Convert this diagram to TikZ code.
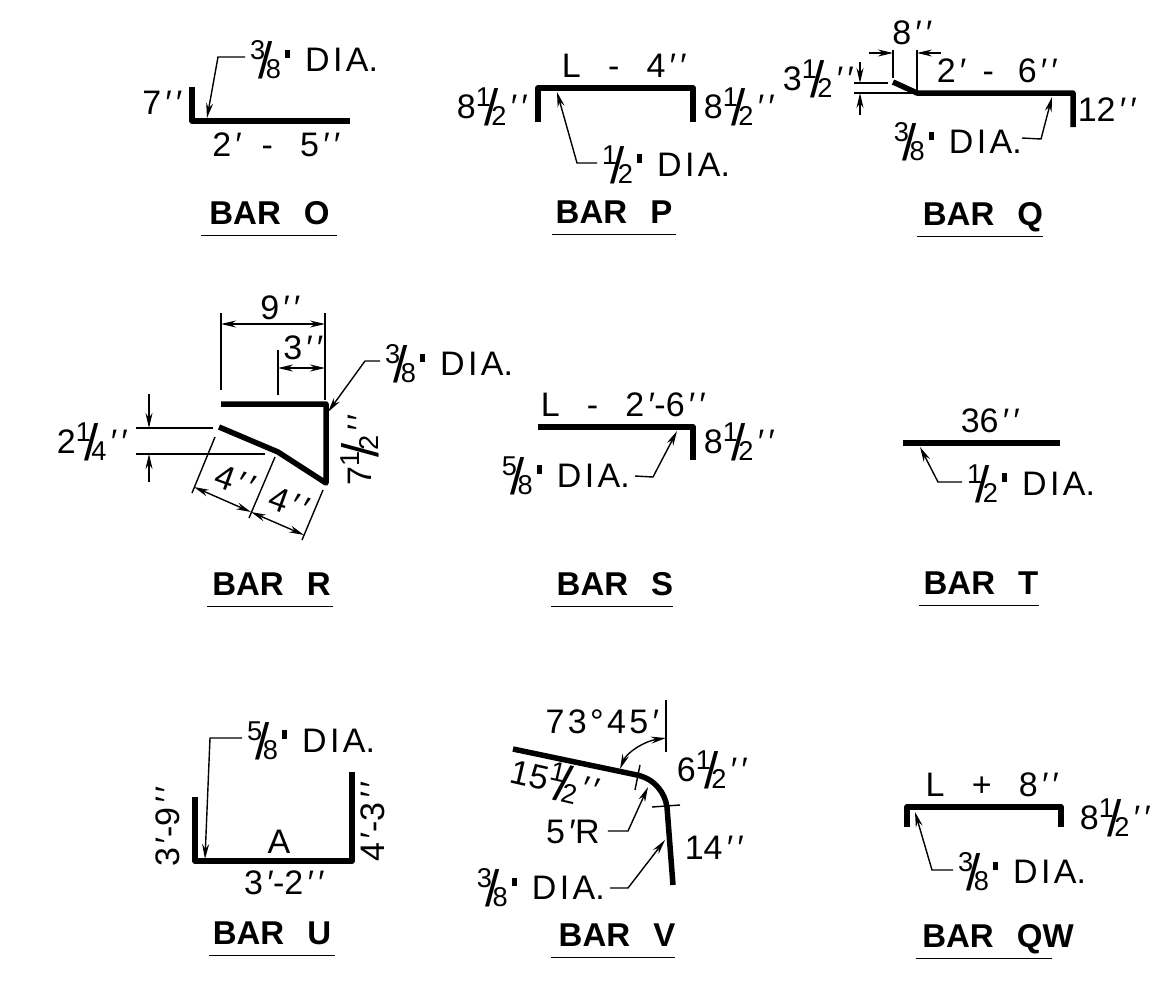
\documentclass[tikz,border=0pt]{standalone}
\usepackage{fontspec}
\setmainfont{Liberation Sans}
\usetikzlibrary{arrows.meta}

\newcommand{\frc}[2]{\raisebox{.36em}{\scalebox{.8}{#1}}\kern-.2em\raisebox{-.2em}{\scalebox{1.5}{/}}\kern-.2em\raisebox{-.2em}{\scalebox{.8}{#2}}}
\newcommand{\dia}{\kern.12em\rule[.42em]{.14em}{.24em}\kern.45em D\kern.1em I\kern.1em A.}
\newcommand{\inch}{\kern.08em\textit{′\kern.12em′}}
\newcommand{\foot}{\kern.08em\textit{′}}
\newcommand{\gp}{\kern.8em}

\tikzset{
  lbl/.style={inner sep=1pt, font=\fontsize{34}{34}\selectfont},
  dlbl/.style={lbl, inner xsep=5pt},
  titlebar/.style={inner sep=0pt, minimum height=46, text height=24, text depth=0, font=\fontsize{33}{33}\selectfont\bfseries},
  rebar/.style={line width=5.5, line join=round, line cap=butt},
  thin line/.style={line width=1.4},
  arrowed/.style={line width=1.4, -{Stealth[length=15, width=7]}},
  both arrowed/.style={line width=1.4, {Stealth[length=15, width=7]}-{Stealth[length=15, width=7]}}
}

\begin{document}
\begin{tikzpicture}[x=1pt, y=-1pt]
 \useasboundingbox (0,0) rectangle (1173,986);

 %%%%%%%%%% Titles %%%%%%%%%%
 \foreach \tx/\ty/\tw/\ts/\tname in {269/212/136/1/O, 614/211/124/0/P, 980/213/126/6/Q,
   270/583/125/3/R, 612/583/121/6/S, 979/582/120/4/T, 272/932/126/0/U, 613/934/123/8/V, 984/935/136/28/QW}
 {
   \node[titlebar, minimum width=\tw] (t\tname) at (\tx,\ty) {\makebox[0pt][c]{\hspace{\ts pt}BAR\hspace{.7em}\tname}};
   \draw[thin line] (t\tname.south west) -- (t\tname.south east);
 }

 %%%%%%%%%% Bar O %%%%%%%%%%
 \coordinate (o1) at (192,87);
 \coordinate (o2) at (192,121);
 \coordinate (o3) at (350,121);
 \coordinate (otip) at (207,118);
 \coordinate (obend) at (218,57);
 \draw[rebar] (o1) -- (o2) -- (o3);
 \node[lbl] (o7) at (162,103) {7\inch};
 \node[lbl] (olen) at (276,145) {2\foot\kern.6em-\gp 5\inch};
 \node[dlbl, anchor=west] (odia) at (245,60) {\frc{3}{8}\dia};
 \draw[arrowed] (odia.west) ++(0,-3) -- (obend) -- (otip);

 %%%%%%%%%% Bar P %%%%%%%%%%
 \coordinate (p1) at (538,122);
 \coordinate (p2) at (538,88);
 \coordinate (p3) at (693,88);
 \coordinate (p4) at (693,122);
 \coordinate (ptip) at (557,92);
 \coordinate (pbend) at (577,163);
 \draw[rebar] (p1) -- (p2) -- (p3) -- (p4);
 \node[lbl] (pleft) at (492,107) {8\frc{1}{2}\inch};
 \node[lbl] (pright) at (739,107) {8\frc{1}{2}\inch};
 \node[lbl] (plen) at (624,66) {L\gp-\gp 4\inch};
 \node[dlbl, anchor=west] (pdia) at (597,165) {\frc{1}{2}\dia};
 \draw[arrowed] (pdia.west) ++(0,-2) -- (pbend) -- (ptip);

 %%%%%%%%%% Bar Q %%%%%%%%%%
 \coordinate (q1) at (893,82);
 \coordinate (q2) at (917,93);
 \coordinate (q3) at (1073,93);
 \coordinate (q4) at (1073,127);
 \coordinate (qa) at (893,50);
 \coordinate (qb) at (917,50);
 \coordinate (qc) at (854,83);
 \coordinate (qd) at (854,93);
 \coordinate (qtip) at (1052,97);
 \coordinate (qbend) at (1041,139);
 \draw[rebar] (q1) -- (q2) -- (q3) -- (q4);
 \draw[thin line] (qa) -- (893,78);
 \draw[thin line] (qb) -- (q2);
 \draw[thin line] (qc) -- (888,83);
 \draw[thin line] (qd) -- (q2);
 \draw[arrowed] (869,53) -- (893,53);
 \draw[arrowed] (941,53) -- (917,53);
 \draw[arrowed] (860,62) -- (860,83);
 \draw[arrowed] (860,115) -- (860,93);
 \node[lbl] (q8) at (912,33) {8\inch};
 \node[lbl] (q35) at (818,79) {3\frc{1}{2}\inch};
 \node[lbl] (qlen) at (997,71) {2\foot\kern.5em-\kern.7em 6\inch};
 \node[lbl] (q12) at (1107,110) {12\inch};
 \node[dlbl, anchor=east] (qdia) at (1027,142) {\frc{3}{8}\dia};
 \draw[arrowed] (qdia.east) ++(-5,-4) -- (qbend) -- (qtip);

 %%%%%%%%%% Bar R %%%%%%%%%%
 \coordinate (r1) at (221,404);
 \coordinate (r2) at (326,404);
 \coordinate (r3) at (326,483);
 \coordinate (r4) at (278,452);
 \coordinate (r5) at (219,427);
 \coordinate (rtip) at (328,412);
 \coordinate (rbend) at (365,361);
 \draw[rebar] (r1) -- (r2) -- (r3) -- (r4) -- (r5);
 \draw[thin line] (221,313) -- (221,390);
 \draw[thin line] (325,313) -- (325,400);
 \draw[thin line] (278,350) -- (278,395);
 \draw[both arrowed] (221,324) -- (325,324);
 \draw[both arrowed] (278,368) -- (325,368);
 \draw[thin line] (136,428) -- (213,428);
 \draw[thin line] (136,454) -- (265,454);
 \draw[arrowed] (149,394) -- (149,428);
 \draw[arrowed] (149,482) -- (149,454);
 \draw[thin line] (215,437) -- (192,493);
 \draw[thin line] (275,457) -- (249,518);
 \draw[thin line] (323,490) -- (302,540);
 \draw[both arrowed] (194,487) -- (251,512);
 \draw[both arrowed] (251,512) -- (304,535);
 \node[lbl] (r9) at (280,308) {9\inch};
 \node[lbl] (r3in) at (303,348) {3\inch};
 \node[lbl] (r225) at (92,442) {2\frc{1}{4}\inch};
 \node[lbl, rotate=90] (r75) at (360,450) {7\frc{1}{2}\inch};
 \node[lbl, rotate=-20] (r4a) at (235,481) {4\inch};
 \node[lbl, rotate=-20] (r4b) at (289,503) {4\inch};
 \node[dlbl, anchor=west] (rdia) at (380,364) {\frc{3}{8}\dia};
 \draw[arrowed] (rdia.west) ++(0,-3) -- (rbend) -- (rtip);

 %%%%%%%%%% Bar S %%%%%%%%%%
 \coordinate (s1) at (538,427);
 \coordinate (s2) at (693,427);
 \coordinate (s3) at (693,460);
 \coordinate (stip) at (677,431);
 \coordinate (sbend) at (653,477);
 \draw[rebar] (s1) -- (s2) -- (s3);
 \node[lbl] (slen) at (623,405) {L\gp-\gp 2\foot-6\inch};
 \node[lbl] (sright) at (739,442) {8\frc{1}{2}\inch};
 \node[dlbl, anchor=east] (sdia) at (635,476) {\frc{5}{8}\dia};
 \draw[arrowed] (sdia.east) -- (sbend) -- (stip);

 %%%%%%%%%% Bar T %%%%%%%%%%
 \coordinate (t1) at (903,443);
 \coordinate (t2) at (1060,443);
 \coordinate (ttip) at (920,447);
 \coordinate (tbend) at (938,482);
 \draw[rebar] (t1) -- (t2);
 \node[lbl] (tlen) at (990,421) {36\inch};
 \node[dlbl, anchor=west] (tdia) at (962,484) {\frc{1}{2}\dia};
 \draw[arrowed] (tdia.west) ++(0,-2) -- (tbend) -- (ttip);

 %%%%%%%%%% Bar U %%%%%%%%%%
 \coordinate (u1) at (195,797);
 \coordinate (u2) at (195,861);
 \coordinate (u3) at (352,861);
 \coordinate (u4) at (352,772);
 \coordinate (utip) at (205,859);
 \coordinate (ubend) at (210,738);
 \draw[rebar] (u1) -- (u2) -- (u3) -- (u4);
 \node[lbl, rotate=90] (uleft) at (168,827) {3\foot-9\inch};
 \node[lbl, rotate=90] (uright) at (373,822) {4\foot-3\inch};
 \node[lbl] (ua) at (279,842) {A};
 \node[lbl] (ulen) at (284,883) {3\foot-2\inch};
 \node[dlbl, anchor=west] (udia) at (242,741) {\frc{5}{8}\dia};
 \draw[arrowed] (udia.west) ++(0,-3) -- (ubend) -- (utip);

 %%%%%%%%%% Bar V %%%%%%%%%%
 \coordinate (v1) at (513,749);
 \coordinate (v2) at (637,775);
 \coordinate (v3) at (667,807);
 \coordinate (v4) at (673,885);
 \coordinate (vtipa) at (648,787);
 \coordinate (vbenda) at (628,831);
 \coordinate (vtipb) at (665,840);
 \coordinate (vbendb) at (628,888);
 \draw[rebar] (v1) -- (v2) .. controls (655,779) and (665,793) .. (v3) -- (v4);
 \draw[thin line] (666,700) -- (666,752);
 \draw[thin line] (640,765) -- (635,790);
 \draw[thin line] (652,807) -- (680,805);
 \draw[both arrowed] (666,738) .. controls (645,741) and (627,752) .. (620,769);
 \node[lbl] (vang) at (602,722) {7\kern.1em 3\kern.1em °\kern.1em 4\kern.1em 5\foot};
 \node[lbl, rotate=-13] (v155) at (555,781) {15\frc{1}{2}\inch};
 \node[lbl] (v65) at (712,770) {6\frc{1}{2}\inch};
 \node[lbl] (v14) at (714,848) {14\inch};
 \node[lbl] (v5r) at (573,832) {5\foot R};
 \node[dlbl, anchor=east] (vdia) at (610,888) {\frc{3}{8}\dia};
 \draw[arrowed] (v5r.east) ++(7,-1) -- (vbenda) -- (vtipa);
 \draw[arrowed] (vdia.east) -- (vbendb) -- (vtipb);

 %%%%%%%%%% Bar QW %%%%%%%%%%
 \coordinate (w1) at (907,827);
 \coordinate (w2) at (907,807);
 \coordinate (w3) at (1061,807);
 \coordinate (w4) at (1061,827);
 \coordinate (wtip) at (915,812);
 \coordinate (wbend) at (932,870);
 \draw[rebar] (w1) -- (w2) -- (w3) -- (w4);
 \node[lbl] (wlen) at (992,785) {L\gp+\gp 8\inch};
 \node[lbl] (wright) at (1115,818) {8\frc{1}{2}\inch};
 \node[dlbl, anchor=west] (wdia) at (953,872) {\frc{3}{8}\dia};
 \draw[arrowed] (wdia.west) ++(0,-2) -- (wbend) -- (wtip);

\end{tikzpicture}
\end{document}
